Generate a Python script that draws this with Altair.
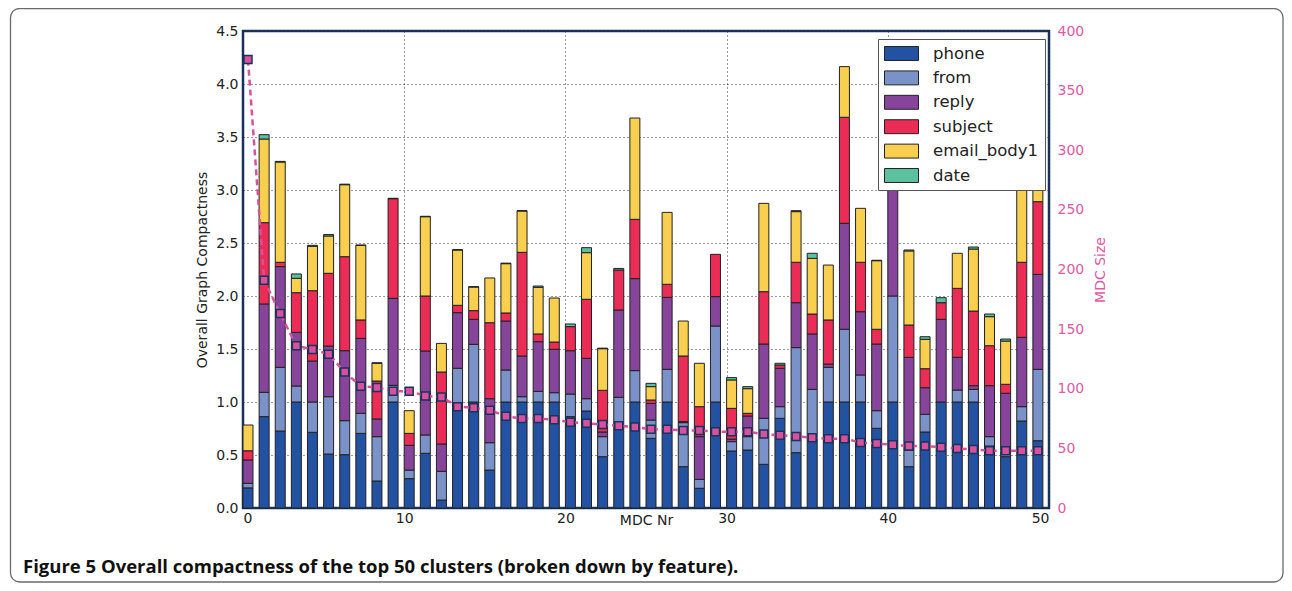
import altair as alt
import pandas as pd

features = ["phone", "from", "reply", "subject", "email_body1", "date"]
colors = ["#2352a2", "#7b92c8", "#86449a", "#ea2c56", "#f9cf50", "#5dc19f"]

# Top of each stacked segment (cumulative Overall Graph Compactness) for MDC Nr 0..49
top_phone = [0.19, 0.862, 0.726, 1.0, 0.714, 0.509, 0.503, 0.704, 0.255, 1.0,
             0.277, 0.516, 0.075, 0.98, 1.0, 0.358, 1.0, 1.0, 1.0, 1.0,
             0.862, 0.915, 0.484, 0.8, 1.0, 0.657, 1.0, 0.39, 0.186, 1.0,
             0.538, 0.547, 0.412, 0.846, 0.522, 0.642, 1.0, 1.0, 1.0, 0.752,
             1.0, 0.39, 0.717, 1.0, 1.0, 1.0, 0.585, 0.484, 0.821, 0.635]
top_from = [0.233, 1.091, 1.327, 1.151, 1.0, 1.05, 0.824, 0.893, 0.673, 1.157,
            0.358, 0.689, 0.346, 1.318, 1.544, 0.616, 1.302, 1.05, 1.1, 1.088,
            1.075, 1.031, 0.673, 1.044, 1.296, 0.83, 1.308, 0.805, 0.27, 1.717,
            0.626, 0.673, 0.846, 0.956, 1.513, 1.119, 1.327, 1.686, 1.255, 0.918,
            2.0, 0.547, 0.884, 1.0, 1.113, 1.119, 0.673, 0.516, 0.956, 1.308]
top_reply = [0.453, 1.925, 2.277, 1.657, 1.387, 1.528, 1.484, 1.6, 0.84, 1.978,
             0.591, 1.481, 0.604, 1.843, 1.78, 1.031, 1.764, 1.434, 1.569, 1.497,
             1.484, 1.412, 0.717, 1.868, 2.164, 0.987, 1.987, 0.815, 0.673, 1.994,
             0.65, 0.868, 1.547, 1.318, 1.937, 1.642, 1.358, 2.686, 1.852, 1.547,
             3.35, 1.421, 1.135, 1.78, 1.421, 1.154, 1.154, 1.082, 1.61, 2.204]
top_subject = [0.54, 2.692, 2.318, 2.031, 2.05, 2.214, 2.371, 1.774, 1.198, 2.918,
               0.704, 2.0, 1.283, 1.912, 1.862, 1.748, 1.84, 2.412, 1.642, 1.566,
               1.711, 1.969, 1.11, 2.245, 2.723, 1.019, 2.11, 1.434, 0.956, 2.393,
               0.94, 0.893, 2.041, 1.349, 2.318, 1.83, 1.774, 3.686, 2.318, 1.686,
               3.35, 1.726, 1.314, 1.937, 2.072, 1.858, 1.531, 1.167, 2.318, 2.89]
top_email_body1 = [0.783, 3.481, 3.264, 2.167, 2.469, 2.566, 3.05, 2.478, 1.365, 2.918,
                   0.918, 2.748, 1.553, 2.434, 2.085, 2.17, 2.305, 2.802, 2.082, 1.981,
                   1.711, 2.409, 1.503, 2.245, 3.679, 1.145, 2.789, 1.764, 1.365, 2.393,
                   1.208, 1.126, 2.874, 1.349, 2.796, 2.355, 2.292, 4.164, 2.827, 2.333,
                   3.35, 2.425, 1.591, 1.937, 2.403, 2.443, 1.805, 1.575, 3.3, 3.8]
top_date = [0.783, 3.522, 3.27, 2.208, 2.478, 2.58, 3.055, 2.48, 1.37, 2.922,
            0.918, 2.752, 1.553, 2.437, 2.088, 2.17, 2.31, 2.805, 2.094, 1.981,
            1.736, 2.456, 1.508, 2.26, 3.679, 1.176, 2.789, 1.764, 1.365, 2.393,
            1.23, 1.145, 2.874, 1.365, 2.805, 2.403, 2.292, 4.164, 2.827, 2.337,
            3.35, 2.434, 1.616, 1.984, 2.403, 2.462, 1.83, 1.594, 3.3, 3.8]

# MDC Size (right axis)
mdc_size = [376, 191, 163, 136, 133, 129, 114, 102, 101, 98,
            98, 94, 93, 85, 84, 82, 77, 75, 75, 74,
            72, 71, 70, 69, 68, 66, 66, 65, 65, 64,
            64, 64, 62, 61, 60, 59, 58, 58, 55, 54,
            53, 52, 52, 51, 50, 49, 48, 48, 48, 48]

caption = "Figure 5 Overall compactness of the top 50 clusters (broken down by feature)."

BAR_W = 0.62
navy = "#17335f"
pink = "#d9509c"
pink_txt = "#e05aa5"

tops = [top_phone, top_from, top_reply, top_subject, top_email_body1, top_date]
rows = []
for i in range(len(mdc_size)):
    prev = 0.0
    for k, f in enumerate(features):
        t = tops[k][i]
        if t > prev + 1e-9:
            rows.append({"nr": i, "x0": i, "x1": i + BAR_W, "feature": f,
                         "order": k, "y0": prev, "y1": t})
            prev = t
bar_df = pd.DataFrame(rows)

line_df = pd.DataFrame({"xm": [i + BAR_W / 2 for i in range(len(mdc_size))],
                        "size": mdc_size})

x_scale = alt.Scale(domain=[0, 50], nice=False, zero=False)
x_axis = alt.Axis(values=[0, 10, 20, 30, 40, 50], title="MDC Nr", format="d",
                  grid=True, labelPadding=3, titleY=16,
                  titleBaseline="alphabetic")

frame = alt.Chart(pd.DataFrame({"a": [0]})).mark_rect(
    fill=None, stroke="#6b6b6b", strokeWidth=1.3, cornerRadius=9
).encode(x=alt.value(-232.5), x2=alt.value(1040), y=alt.value(-22.5), y2=alt.value(551))

bars = alt.Chart(bar_df).mark_rect(stroke="#222222", strokeWidth=1).encode(
    x=alt.X("x0:Q", scale=x_scale, axis=x_axis),
    x2="x1:Q",
    y=alt.Y("y0:Q", scale=alt.Scale(domain=[0, 4.5], nice=False),
            axis=alt.Axis(values=[0, 0.5, 1, 1.5, 2, 2.5, 3, 3.5, 4, 4.5],
                          format=".1f", title="Overall Graph Compactness",
                          grid=True, labelPadding=5, titlePadding=6)),
    y2="y1:Q",
    color=alt.Color("feature:N",
                    scale=alt.Scale(domain=features, range=colors),
                    legend=alt.Legend(title=None, orient="none", legendX=635, legendY=8,
                                      symbolType="M-1,-0.41L1,-0.41L1,0.41L-1,0.41Z",
                                      symbolSize=1156, symbolStrokeColor="#222222",
                                      symbolStrokeWidth=1, symbolOpacity=1,
                                      labelFont="DejaVu Sans", labelFontSize=16.5,
                                      labelColor="#222222", labelOffset=14,
                                      clipHeight=17, rowPadding=7.4, padding=6,
                                      fillColor="white", strokeColor="#555555")),
)

line = alt.Chart(line_df).mark_line(
    color=pink, strokeDash=[6, 4], strokeWidth=2.5,
    point=alt.OverlayMarkDef(shape="square", size=64, filled=True, fill=pink,
                             stroke=navy, strokeWidth=1.5, opacity=1)
).encode(
    x=alt.X("xm:Q", scale=x_scale, axis=x_axis),
    y=alt.Y("size:Q", scale=alt.Scale(domain=[0, 400], nice=False),
            axis=alt.Axis(orient="right", values=list(range(0, 401, 50)),
                          title="MDC Size", grid=False, labelColor=pink_txt,
                          titleColor=pink_txt, labelPadding=8, titlePadding=10,
                          titleAngle=270, titleBaseline="top")),
)

cap = alt.Chart(pd.DataFrame({"t": [caption]})).mark_text(
    align="left", baseline="alphabetic", font="Open Sans", fontSize=18.5,
    fontWeight="bold", color="#111111"
).encode(text="t:N", x=alt.value(-220), y=alt.value(541.5))

chart = alt.layer(frame, bars, line, cap).resolve_scale(y="independent").properties(
    width=806, height=477,
    autosize=alt.AutoSizeParams(type="none"),
    padding={"left": 235, "top": 23, "right": 235, "bottom": 75},
).configure_view(stroke=navy, strokeWidth=2.5).configure_axis(
    labelFont="DejaVu Sans", labelFontSize=14, titleFont="DejaVu Sans",
    titleFontSize=14, titleFontWeight="normal", domain=False, ticks=False,
    gridDash=[1, 3], gridColor="#222222", gridWidth=1, gridOpacity=0.9,
    labelColor="#222222", titleColor="#222222"
)

chart.save("out.html", embed_options={"renderer": "svg", "actions": False})
